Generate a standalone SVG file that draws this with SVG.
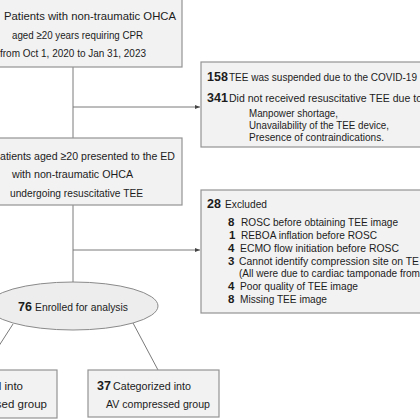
<svg xmlns="http://www.w3.org/2000/svg" width="420" height="420" viewBox="0 0 420 420">
<defs>
<style>
.box{fill:#f2f2f2;stroke:#939393;stroke-width:1.2}
.ell{fill:#ededed;stroke:#8a8a8a;stroke-width:1}
.ln{stroke:#7a7a7a;stroke-width:1;fill:none}
text{font-family:"Liberation Sans",Arial,sans-serif;fill:#1c1c1c}
.t{font-size:11.5px}
.m{font-size:11px}
.e{font-size:10px}
.s{font-size:10.5px}
.b{font-size:12.5px;font-weight:bold}
.bi{font-size:11.5px;font-weight:bold}
</style>
<marker id="ah" markerWidth="5" markerHeight="4" refX="5" refY="2" orient="auto" markerUnits="userSpaceOnUse">
<path d="M0,0 L5,2 L0,4 Z" fill="#444"/>
</marker>
</defs>
<rect width="420" height="420" fill="#ffffff"/>
<g id="connectors">
<line class="ln" x1="73" y1="67" x2="73" y2="138"/>
<line class="ln" x1="73" y1="107" x2="200" y2="107" marker-end="url(#ah)"/>
<line class="ln" x1="73" y1="205" x2="73" y2="282"/>
<line class="ln" x1="73" y1="250" x2="200" y2="250" marker-end="url(#ah)"/>
<line class="ln" x1="13" y1="324" x2="-5" y2="352"/>
<line class="ln" x1="133" y1="323" x2="158" y2="370"/>
</g>
<g id="node-patients">
<rect class="box" x="-40" y="-10" width="222" height="77"/>
<text class="t" x="4" y="20" textLength="172" lengthAdjust="spacingAndGlyphs">Patients with non-traumatic OHCA</text>
<text class="t" x="12" y="38.5" textLength="131" lengthAdjust="spacingAndGlyphs">aged ≥20 years requiring CPR</text>
<text class="t" x="0" y="57" textLength="146" lengthAdjust="spacingAndGlyphs">from Oct 1, 2020 to Jan 31, 2023</text>
</g>
<g id="node-suspended">
<rect class="box" x="201" y="62" width="240" height="85"/>
<text class="b" x="207" y="80.5">158</text>
<text class="e" x="229" y="80.5" textLength="188" lengthAdjust="spacingAndGlyphs">TEE was suspended due to the COVID-19</text>
<text class="b" x="207" y="102">341</text>
<text class="m" x="229" y="102" textLength="193" lengthAdjust="spacingAndGlyphs">Did not received resuscitative TEE due to</text>
<text class="s" x="249" y="116.5" textLength="89" lengthAdjust="spacingAndGlyphs">Manpower shortage,</text>
<text class="s" x="249" y="128.5" textLength="140" lengthAdjust="spacingAndGlyphs">Unavailability of the TEE device,</text>
<text class="s" x="249" y="140.5" textLength="135" lengthAdjust="spacingAndGlyphs">Presence of contraindications.</text>
</g>
<g id="node-tee">
<rect class="box" x="-40" y="138" width="222" height="67"/>
<text class="t" x="0" y="159.5" textLength="175" lengthAdjust="spacingAndGlyphs">atients aged ≥20 presented to the ED</text>
<text class="t" x="12" y="178" textLength="121" lengthAdjust="spacingAndGlyphs">with non-traumatic OHCA</text>
<text class="t" x="10" y="196.5" textLength="133" lengthAdjust="spacingAndGlyphs">undergoing resuscitative TEE</text>
</g>
<g id="node-excluded">
<rect class="box" x="201" y="190" width="240" height="123"/>
<text class="b" x="207" y="207.5">28</text>
<text class="m" x="225" y="207.5" textLength="42" lengthAdjust="spacingAndGlyphs">Excluded</text>
<text class="bi" x="228" y="225.5">8</text>
<text class="m" x="241" y="225.5" textLength="157" lengthAdjust="spacingAndGlyphs">ROSC before obtaining TEE image</text>
<text class="bi" x="229" y="238.5">1</text>
<text class="m" x="241" y="238.5" textLength="136" lengthAdjust="spacingAndGlyphs">REBOA inflation before ROSC</text>
<text class="bi" x="228" y="251.5">4</text>
<text class="m" x="240" y="251.5" textLength="159" lengthAdjust="spacingAndGlyphs">ECMO flow initiation before ROSC</text>
<text class="bi" x="228" y="264.5">3</text>
<text class="m" x="239" y="264.5" textLength="180" lengthAdjust="spacingAndGlyphs">Cannot identify compression site on TE</text>
<text class="m" x="239" y="277" textLength="181" lengthAdjust="spacingAndGlyphs">(All were due to cardiac tamponade from</text>
<text class="bi" x="228" y="290">4</text>
<text class="m" x="240" y="290" textLength="118" lengthAdjust="spacingAndGlyphs">Poor quality of TEE image</text>
<text class="bi" x="228" y="303">8</text>
<text class="m" x="240" y="303" textLength="87" lengthAdjust="spacingAndGlyphs">Missing TEE image</text>
</g>
<g id="node-enrolled">
<ellipse class="ell" cx="73" cy="306" rx="85" ry="24"/>
<text class="b" x="18" y="310.5">76</text>
<text class="m" x="35" y="310.5" textLength="93" lengthAdjust="spacingAndGlyphs">Enrolled for analysis</text>
</g>
<g id="node-noncompressed">
<rect class="box" x="-60" y="370" width="117" height="48"/>
<text class="t" x="23" y="390" text-anchor="end">l into</text>
<text class="t" x="47" y="408" text-anchor="end">sed group</text>
</g>
<g id="node-compressed">
<rect class="box" x="88" y="370" width="131" height="47"/>
<text class="b" x="97" y="390">37</text>
<text class="t" x="113" y="390" textLength="78" lengthAdjust="spacingAndGlyphs">Categorized into</text>
<text class="t" x="106" y="408" textLength="104" lengthAdjust="spacingAndGlyphs">AV compressed group</text>
</g>
</svg>
